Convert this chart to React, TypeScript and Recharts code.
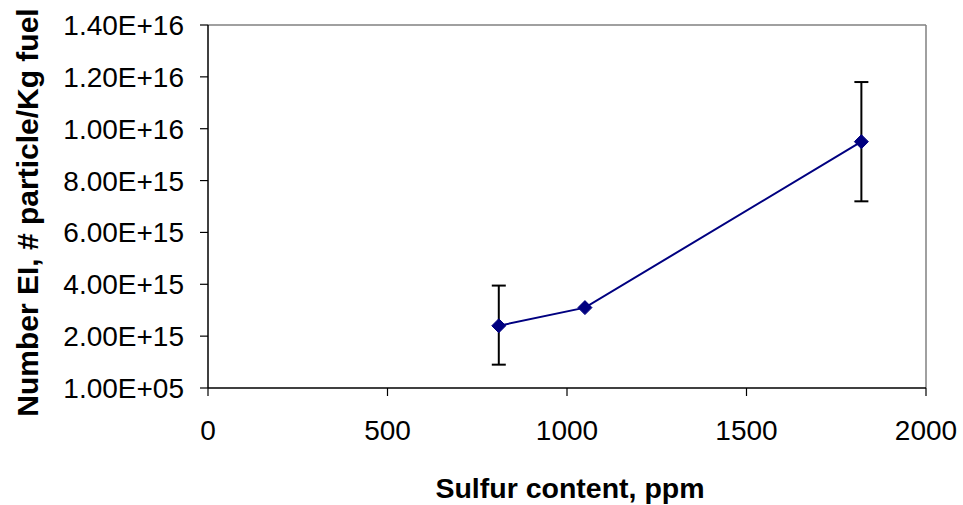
import React from "react";
import { LineChart, Line, XAxis, YAxis, ErrorBar, ReferenceLine, Label } from "recharts";

const sulfurPpm = [810, 1050, 1820];
const numberEI = [2.4e15, 3.1e15, 9.5e15];
const errLow = [1.5e15, null, 2.3e15];
const errHigh = [1.55e15, null, 2.3e15];

const xTicks = [0, 500, 1000, 1500, 2000];
const yTicks = [0, 2e15, 4e15, 6e15, 8e15, 1e16, 1.2e16, 1.4e16];
const yTickLabels = ["1.00E+05", "2.00E+15", "4.00E+15", "6.00E+15", "8.00E+15", "1.00E+16", "1.20E+16", "1.40E+16"];

const data = sulfurPpm.map((x, i) => ({
  x,
  y: numberEI[i],
  err: errLow[i] == null ? null : [errLow[i], errHigh[i]],
}));

const FONT = "Liberation Sans, Arial, sans-serif";

const Diamond = (props: any) => {
  const { cx, cy, index } = props;
  if (cx == null || cy == null) return null;
  const s = 7;
  return (
    <path
      key={`d${index}`}
      d={`M${cx},${cy - s} L${cx + s},${cy} L${cx},${cy + s} L${cx - s},${cy} Z`}
      fill="#000080"
      stroke="#000080"
    />
  );
};

export default function App() {
  return (
    <div style={{ position: "absolute", left: 0, top: 0, background: "#fff" }}>
      <LineChart width={963} height={505} data={data} margin={{ top: 25, right: 37, bottom: 0, left: 0 }}>
        <XAxis
          dataKey="x"
          type="number"
          domain={[0, 2000]}
          ticks={xTicks}
          height={117}
          tickSize={8}
          tickMargin={24}
          axisLine={{ stroke: "#000", strokeWidth: 1.5 }}
          tickLine={{ stroke: "#000", strokeWidth: 1.2 }}
          tick={{ fill: "#000", fontSize: 28, fontFamily: FONT }}
          allowDataOverflow
        >
          <Label
            content={(p: any) => {
              const vb = p.viewBox;
              return (
                <text
                  x={vb.x + vb.width / 2 + 3}
                  y={vb.y + 110}
                  textAnchor="middle"
                  fontSize={28.5}
                  fontWeight="bold"
                  fontFamily={FONT}
                  fill="#000"
                >
                  Sulfur content, ppm
                </text>
              );
            }}
          />
        </XAxis>
        <YAxis
          type="number"
          domain={[0, 1.4e16]}
          ticks={yTicks}
          width={208}
          tickSize={8}
          tickMargin={16}
          interval={0}
          axisLine={{ stroke: "#000", strokeWidth: 1.5 }}
          tickLine={{ stroke: "#000", strokeWidth: 1.2 }}
          tick={{ fill: "#000", fontSize: 28, fontFamily: FONT }}
          tickFormatter={(v: number) => yTickLabels[yTicks.indexOf(v)]}
          allowDataOverflow
        >
          <Label
            content={(p: any) => {
              const vb = p.viewBox;
              const cx = 38;
              const cy = vb.y + vb.height / 2 + 6;
              return (
                <text
                  x={cx}
                  y={cy}
                  transform={`rotate(-90, ${cx}, ${cy})`}
                  textAnchor="middle"
                  fontSize={30}
                  fontWeight="bold"
                  fontFamily={FONT}
                  fill="#000"
                >
                  Number EI, # particle/Kg fuel
                </text>
              );
            }}
          />
        </YAxis>
        <ReferenceLine y={1.4e16} stroke="#808080" strokeWidth={1.5} />
        <ReferenceLine x={2000} stroke="#808080" strokeWidth={1.5} />
        <Line
          dataKey="y"
          type="linear"
          stroke="#000080"
          strokeWidth={2}
          dot={Diamond}
          activeDot={false}
          isAnimationActive={false}
        >
          <ErrorBar dataKey="err" direction="y" width={7} stroke="#000" strokeWidth={2} isAnimationActive={false} />
        </Line>
      </LineChart>
    </div>
  );
}
